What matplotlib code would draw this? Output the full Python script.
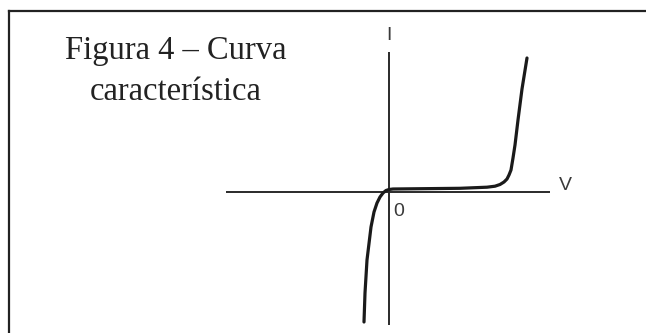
import matplotlib
matplotlib.use("Agg")
import matplotlib.pyplot as plt
from matplotlib.lines import Line2D

# I-V characteristic points (V, I) in arbitrary units
voltage = [-0.25, -0.24, -0.22, -0.18, -0.15, -0.12, -0.09, -0.06, -0.03, 0.0, 0.04,
           0.71, 0.98, 1.06, 1.11, 1.15, 1.18, 1.20, 1.22, 1.24, 1.26, 1.29, 1.33, 1.38]
current = [-1.30, -1.01, -0.68, -0.35, -0.20, -0.11, -0.05, -0.01, 0.015, 0.025, 0.03,
           0.037, 0.048, 0.058, 0.075, 0.10, 0.13, 0.17, 0.22, 0.34, 0.47, 0.72, 1.03, 1.34]

title_lines = ["Figura 4 – Curva", "característica"]
axis_labels = {"I": "I", "V": "V", "origin": "0"}

W, H, DPI = 646, 333, 100
fig = plt.figure(figsize=(W / DPI, H / DPI), dpi=DPI)
fig.patch.set_facecolor("white")

ax = fig.add_axes([0, 0, 1, 1])
ax.set_axis_off()
# 100 px per unit, origin of the I-V axes at pixel (389, 192)
ox, oy, s = 389, 192, 100.0
ax.set_xlim(-ox / s, (W - ox) / s)
ax.set_ylim(-(H - oy) / s, oy / s)

axis_col = "#2a2a2a"
# coordinate axes
ax.plot([-1.63, 1.61], [0, 0], color=axis_col, lw=1.4, solid_capstyle="butt")
ax.plot([0, 0], [-1.33, 1.40], color=axis_col, lw=1.4, solid_capstyle="butt")

# characteristic curve
ax.plot(voltage, current, color="#1a1a1a", lw=2.3,
        solid_joinstyle="round", solid_capstyle="round")

lab_kw = dict(family="Liberation Sans", fontsize=14, color="#3a3a3a",
              ha="center", va="center")
ax.text(0.0, 1.56, axis_labels["I"], **lab_kw)
ax.text(1.76, 0.06, axis_labels["V"], **lab_kw)
ax.text(0.10, -0.19, axis_labels["origin"], **lab_kw)

# caption, centred at x = 176 px
title_kw = dict(family="Liberation Serif", fontsize=23.5, color="#222222",
                ha="center", va="baseline")
fig.text(176 / W, 1 - 59 / H, title_lines[0], **title_kw)
fig.text(176 / W, 1 - 100 / H, title_lines[1], **title_kw)

# frame: left and top edges visible, the rest runs off the canvas
frame_col = "#222222"
fig.add_artist(Line2D([9 / W, 9 / W], [0, 1 - 11 / H], transform=fig.transFigure,
                      color=frame_col, lw=1.6, solid_capstyle="projecting"))
fig.add_artist(Line2D([9 / W, 1], [1 - 11 / H, 1 - 11 / H], transform=fig.transFigure,
                      color=frame_col, lw=1.6, solid_capstyle="projecting"))

fig.savefig("out.png", dpi=DPI, facecolor="white")
